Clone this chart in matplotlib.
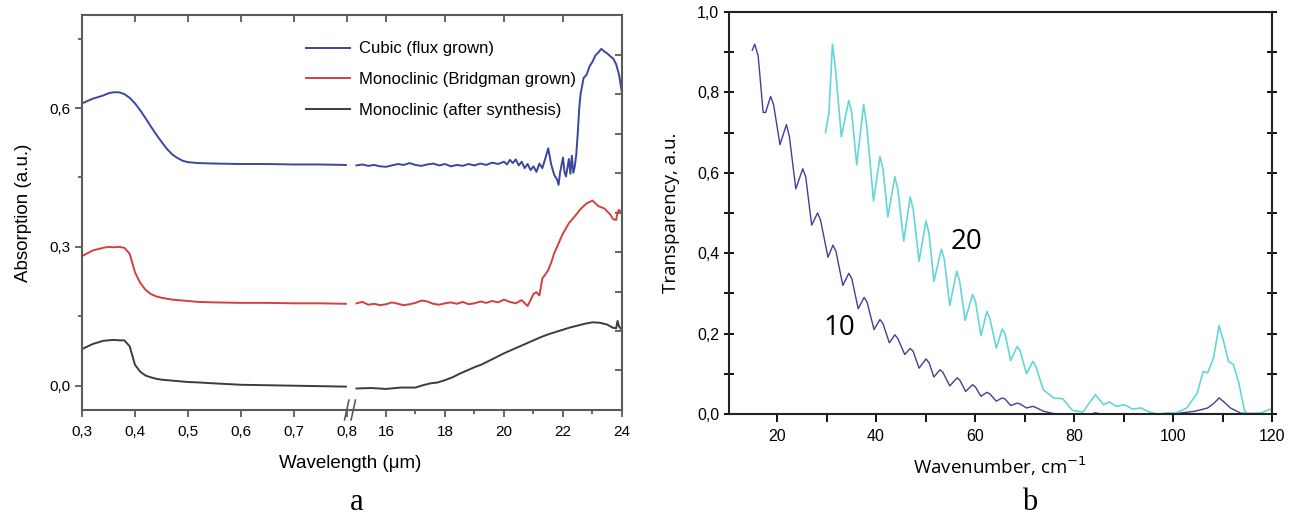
import matplotlib
matplotlib.use("Agg")
import matplotlib.pyplot as plt
from matplotlib.ticker import MultipleLocator, FixedLocator

plt.rcParams['font.family'] = ['Liberation Sans', 'DejaVu Sans']

# ---- panel a : absorption, visible part (um) ----
vis_x = [0.30, 0.32, 0.34, 0.35, 0.36, 0.37, 0.38, 0.39, 0.40, 0.41, 0.42, 0.43, 0.44,
         0.45, 0.46, 0.47, 0.48, 0.49, 0.50, 0.52, 0.55, 0.60, 0.65, 0.70, 0.75, 0.798]
cubic_vis = [0.610, 0.620, 0.627, 0.632, 0.634, 0.634, 0.630, 0.622, 0.610, 0.595, 0.578, 0.560, 0.543,
             0.527, 0.512, 0.500, 0.492, 0.486, 0.483, 0.481, 0.480, 0.479, 0.479, 0.478, 0.478, 0.477]
bridg_vis = [0.280, 0.292, 0.298, 0.300, 0.299, 0.300, 0.298, 0.285, 0.245, 0.222, 0.207, 0.198, 0.193,
             0.190, 0.188, 0.186, 0.185, 0.184, 0.183, 0.181, 0.180, 0.179, 0.179, 0.178, 0.178, 0.177]
synth_vis = [0.079, 0.090, 0.097, 0.098, 0.099, 0.098, 0.098, 0.085, 0.045, 0.030, 0.022, 0.018, 0.015,
             0.013, 0.012, 0.011, 0.010, 0.009, 0.008, 0.007, 0.005, 0.002, 0.001, 0.000, -0.001, -0.002]

# ---- panel a : infrared part (um) ----
cubic_ir_x = [15.0, 15.2, 15.4, 15.6, 15.8, 16.0, 16.2, 16.4, 16.6, 16.8, 17.0, 17.2, 17.4, 17.6, 17.8,
              18.0, 18.2, 18.4, 18.6, 18.8, 19.0, 19.2, 19.4, 19.6, 19.8, 20.0, 20.1, 20.2, 20.3, 20.4,
              20.5, 20.6, 20.7, 20.8, 20.9, 21.0, 21.1, 21.2, 21.3, 21.4, 21.5, 21.6, 21.7, 21.8, 21.85,
              21.9, 22.0, 22.05, 22.1, 22.2, 22.25, 22.3, 22.35, 22.4, 22.45, 22.5, 22.55, 22.6, 22.7,
              22.8, 22.9, 23.0, 23.1, 23.2, 23.3, 23.4, 23.5, 23.6, 23.7, 23.8, 23.9, 24.0]
cubic_ir = [0.476, 0.478, 0.475, 0.477, 0.474, 0.473, 0.476, 0.479, 0.477, 0.481, 0.477, 0.475, 0.478, 0.480, 0.476,
            0.479, 0.474, 0.477, 0.475, 0.479, 0.476, 0.480, 0.477, 0.482, 0.479, 0.484, 0.478, 0.488, 0.481, 0.489,
            0.476, 0.484, 0.470, 0.479, 0.466, 0.474, 0.462, 0.480, 0.470, 0.491, 0.513, 0.478, 0.456, 0.445, 0.434,
            0.460, 0.493, 0.462, 0.452, 0.490, 0.458, 0.497, 0.460, 0.474, 0.500, 0.545, 0.600, 0.632, 0.665,
            0.672, 0.690, 0.700, 0.714, 0.720, 0.728, 0.722, 0.718, 0.712, 0.707, 0.695, 0.672, 0.632]

bridg_ir_x = [15.0, 15.2, 15.4, 15.6, 15.8, 16.0, 16.2, 16.4, 16.6, 16.8, 17.0, 17.2, 17.4, 17.6, 17.8,
              18.0, 18.2, 18.4, 18.6, 18.8, 19.0, 19.2, 19.4, 19.6, 19.8, 20.0, 20.2, 20.4, 20.6, 20.8,
              21.0, 21.1, 21.2, 21.3, 21.4, 21.5, 21.6, 21.7, 21.8, 21.9, 22.0, 22.2, 22.4, 22.6, 22.8,
              23.0, 23.2, 23.4, 23.6, 23.7, 23.8, 23.85, 23.9, 24.0]
bridg_ir = [0.178, 0.181, 0.175, 0.177, 0.174, 0.176, 0.180, 0.177, 0.174, 0.176, 0.179, 0.184, 0.182, 0.177, 0.175,
            0.178, 0.180, 0.177, 0.181, 0.176, 0.178, 0.182, 0.179, 0.183, 0.180, 0.186, 0.181, 0.178, 0.185, 0.172,
            0.198, 0.202, 0.195, 0.232, 0.240, 0.250, 0.266, 0.286, 0.300, 0.315, 0.329, 0.351, 0.366, 0.382, 0.394,
            0.400, 0.388, 0.383, 0.370, 0.360, 0.358, 0.375, 0.380, 0.372]

synth_ir_x = [15.0, 15.5, 16.0, 16.5, 17.0, 17.25, 17.5, 17.75, 18.0, 18.25, 18.5, 18.75, 19.0, 19.25,
              19.5, 19.75, 20.0, 20.25, 20.5, 20.75, 21.0, 21.25, 21.5, 21.75, 22.0, 22.25, 22.5, 22.75,
              23.0, 23.25, 23.5, 23.7, 23.8, 23.85, 23.9, 24.0]
synth_ir = [-0.006, -0.005, -0.007, -0.004, -0.004, 0.001, 0.005, 0.007, 0.012, 0.018, 0.026, 0.033, 0.040, 0.046,
            0.054, 0.062, 0.070, 0.077, 0.084, 0.091, 0.098, 0.105, 0.111, 0.116, 0.121, 0.126, 0.130, 0.134,
            0.137, 0.136, 0.132, 0.125, 0.124, 0.140, 0.128, 0.120]

names_a = ["Cubic (flux grown)", "Monoclinic (Bridgman grown)", "Monoclinic (after synthesis)"]
colors_a = ["#3b479e", "#d2403f", "#3c3c3c"]

# ---- panel b : transparency vs wavenumber ----
t10_x = [15.0, 15.5, 16.2, 17.2, 17.7, 18.7, 19.3, 20.6, 21.9, 22.5, 23.8, 25.2, 25.8, 27.0, 28.2, 28.8,
         30.3, 31.3, 31.9, 33.3, 34.5, 35.1, 36.4, 37.6, 38.2, 39.6, 40.8, 41.4, 42.7, 43.8, 44.4, 45.8,
         46.9, 47.5, 48.7, 50.1, 50.7, 51.7, 52.9, 53.5, 54.9, 56.4, 57.0, 58.1, 59.5, 60.1, 61.2,
         62.4, 63.0, 64.3, 65.5, 66.1, 67.2, 68.5, 69.1, 70.4, 71.7, 72.5, 73.8, 75.9, 80.0, 83.5, 84.3,
         85.5, 90.0, 100.0, 104.5, 107.0, 108.3, 109.3, 110.3, 111.6, 113.7, 120.0]
t10_y = [0.905, 0.920, 0.890, 0.750, 0.750, 0.790, 0.770, 0.670, 0.720, 0.690, 0.560, 0.610, 0.590, 0.470, 0.500, 0.482,
         0.390, 0.420, 0.405, 0.320, 0.350, 0.337, 0.262, 0.290, 0.278, 0.210, 0.235, 0.225, 0.177, 0.197, 0.188, 0.148,
         0.163, 0.156, 0.114, 0.137, 0.128, 0.092, 0.110, 0.104, 0.070, 0.090, 0.083, 0.056, 0.073, 0.067, 0.044,
         0.054, 0.050, 0.032, 0.040, 0.037, 0.021, 0.027, 0.025, 0.015, 0.019, 0.015, 0.007, 0.001, 0.000, 0.000, 0.003,
         0.000, 0.000, 0.000, 0.007, 0.015, 0.027, 0.040, 0.030, 0.015, 0.002, 0.000]

t20_x = [29.8, 30.5, 31.2, 31.8, 33.0, 34.5, 35.1, 36.1, 37.5, 38.1, 39.5, 40.8, 41.4, 42.4, 43.8, 44.4, 45.6,
         46.9, 47.5, 48.7, 50.1, 50.7, 51.7, 53.2, 53.8, 54.9, 56.3, 56.9, 58.0, 59.5, 60.1, 61.2, 62.4, 63.0,
         64.3, 65.5, 66.1, 67.2, 68.5, 69.1, 70.4, 71.7, 72.3, 73.8, 75.9, 77.7,
         79.7, 81.8, 84.3, 86.0, 87.2, 88.5, 90.2, 91.8, 93.5, 95.2, 96.9, 99.0, 100.5, 102.8, 104.9, 106.1,
         107.0, 108.2, 109.3, 110.3, 111.2, 112.2, 113.3, 114.4, 115.0, 117.9, 119.6, 120.0]
t20_y = [0.700, 0.750, 0.920, 0.860, 0.690, 0.780, 0.750, 0.620, 0.770, 0.720, 0.530, 0.640, 0.610, 0.490, 0.590,
         0.560, 0.430, 0.540, 0.510, 0.380, 0.480, 0.450, 0.330, 0.410, 0.385, 0.270, 0.355, 0.330, 0.233, 0.297,
         0.280, 0.195, 0.255, 0.238, 0.164, 0.211, 0.198, 0.133, 0.168, 0.158, 0.100, 0.131, 0.118, 0.060, 0.040,
         0.038, 0.009, 0.005, 0.048, 0.023, 0.030, 0.019, 0.023, 0.012, 0.015, 0.005, 0.000, 0.003, 0.002, 0.015,
         0.052, 0.106, 0.102, 0.140, 0.220, 0.177, 0.131, 0.123, 0.077, 0.011, 0.000, 0.003, 0.012, 0.010]

W, H = 1291, 519
fig = plt.figure(figsize=(W / 100, H / 100), dpi=100)

def box(l, t, r, b):
    return [l / W, 1 - b / H, (r - l) / W, (b - t) / H]

# ---------------- panel a (broken axis) ----------------
frame_a = "#5a5a5a"
ylim_a = (-0.0525, 0.801)
ax1 = fig.add_axes(box(82, 15, 350, 410))
ax2 = fig.add_axes(box(350, 15, 622, 410))

for ax in (ax1, ax2):
    for s in ax.spines.values():
        s.set_color(frame_a)
        s.set_linewidth(1.5)
    ax.set_ylim(ylim_a)
ax1.spines['right'].set_visible(False)
ax2.spines['left'].set_visible(False)

for ys, c in zip([cubic_vis, bridg_vis, synth_vis], colors_a):
    ax1.plot(vis_x, ys, color=c, lw=1.4)
lines = []
for xs, ys, c in zip([cubic_ir_x, bridg_ir_x, synth_ir_x], [cubic_ir, bridg_ir, synth_ir], colors_a):
    ln, = ax2.plot(xs, ys, color=c, lw=1.4)
    lines.append(ln)

ax1.set_xlim(0.3, 0.8057)
ax2.set_xlim(14.78, 24)

ax1.set_xticks([0.3, 0.4, 0.5, 0.6, 0.7, 0.8])
ax1.set_xticklabels(["0,3", "0,4", "0,5", "0,6", "0,7", "0,8"])
ax2.set_xticks([16, 18, 20, 22, 24])
ax2.set_xticklabels(["16", "18", "20", "22", "24"])
ax2.xaxis.set_minor_locator(FixedLocator([17, 19, 21, 23]))
ax1.set_yticks([0.0, 0.3, 0.6])
ax1.set_yticklabels(["0,0", "0,3", "0,6"])
ax1.yaxis.set_minor_locator(FixedLocator([0.15, 0.45, 0.75]))

for ax in (ax1, ax2):
    ax.tick_params(axis='x', which='both', direction='out', bottom=True, top=False,
                   color=frame_a, labelsize=11, pad=6)
    ax.tick_params(axis='x', which='major', length=5, width=1.3)
    ax.tick_params(axis='x', which='minor', length=3, width=1.3)
ax1.tick_params(axis='y', which='both', direction='out', left=True, right=False,
                color=frame_a, width=1.3, labelsize=11)
ax1.tick_params(axis='y', which='major', length=5)
ax1.tick_params(axis='y', which='minor', length=3)
# right part: inward ticks on the right frame only
ax2.set_yticks([0.034, 0.118, 0.203, 0.288, 0.374, 0.459, 0.543, 0.630, 0.714])
ax2.tick_params(axis='y', which='both', direction='in', length=5, width=1.3, color=frame_a,
                left=False, labelleft=False, right=True, labelright=False)
# top ticks point inward
for ax in (ax1, ax2):
    sec = ax.secondary_xaxis('top')
    sec.set_xticks(ax.get_xticks())
    sec.tick_params(direction='in', length=5, width=1.3, color=frame_a, labeltop=False)
    sec.spines['top'].set_visible(False)

# break marks on the bottom axis
for dx in (-0.012, 0.012):
    ax2.plot([dx - 0.008, dx + 0.008], [-0.025, 0.025], transform=ax2.transAxes,
             color=frame_a, lw=1.2, clip_on=False)

ax1.set_ylabel("Absorption (a.u.)", fontsize=13.5, labelpad=12)
fig.text(350 / W, 1 - 464 / H, "Wavelength (\u03bcm)", fontsize=13.5, ha='center', va='center')

leg = ax2.legend(lines, names_a, loc='upper left', bbox_to_anchor=(-0.185, 0.95),
                 frameon=False, fontsize=12, handlelength=2.6, handletextpad=0.55,
                 labelspacing=0.95, borderaxespad=0)

fig.text(357 / W, 1 - 503 / H, "a", fontsize=22, family='Liberation Serif', ha='center', va='center')

# ---------------- panel b ----------------
ax3 = fig.add_axes(box(729, 12, 1272, 414))
ax3.plot(t10_x, t10_y, color="#3f3f9f", lw=1.0)
ax3.plot(t20_x, t20_y, color="#63d6d8", lw=1.2)
ax3.set_xlim(10.3, 120)
ax3.set_ylim(0, 1.0)
ax3.xaxis.set_major_locator(MultipleLocator(20))
ax3.xaxis.set_minor_locator(MultipleLocator(10))
ax3.yaxis.set_major_locator(MultipleLocator(0.2))
ax3.yaxis.set_minor_locator(MultipleLocator(0.1))
ax3.set_yticks([0, 0.2, 0.4, 0.6, 0.8, 1.0])
ax3.set_yticklabels(["0,0", "0,2", "0,4", "0,6", "0,8", "1,0"])
ax3.set_xticks([20, 40, 60, 80, 100, 120])
for s in ax3.spines.values():
    s.set_linewidth(1.5)
    s.set_color("#222222")
ax3.tick_params(axis='x', which='both', direction='out', length=6, width=1.3, labelsize=11.5, pad=5)
ax3.tick_params(axis='y', which='both', direction='inout', left=True, right=True,
                length=7, width=1.3, labelsize=11.5)
ax3.set_ylabel("Transparency, a.u.", fontsize=13.5, family=['Open Sans', 'DejaVu Sans'], labelpad=12)
ax3.set_xlabel("Wavenumber, cm$^{-1}$", fontsize=13.5, family=['Open Sans', 'DejaVu Sans'], labelpad=7)
ax3.text(58.2, 0.427, "20", fontsize=20, family=['Open Sans', 'DejaVu Sans'], ha='center', va='center')
ax3.text(32.6, 0.214, "10", fontsize=20, family=['Open Sans', 'DejaVu Sans'], ha='center', va='center')

fig.text(1030 / W, 1 - 503 / H, "b", fontsize=22, family='Liberation Serif', ha='center', va='center')

fig.savefig("out.png", dpi=100)
